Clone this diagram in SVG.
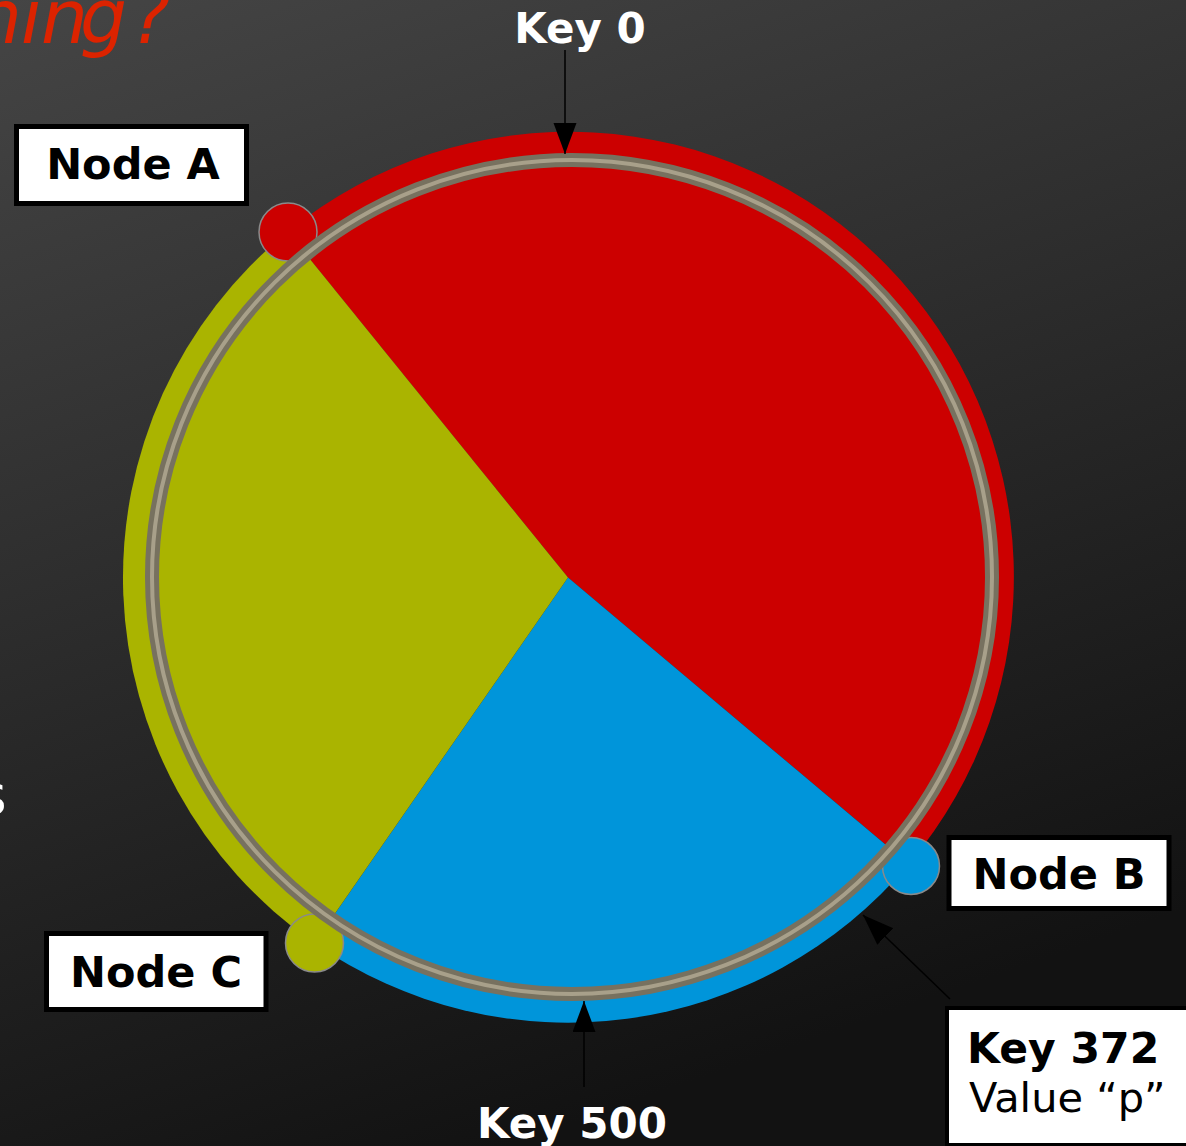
<svg xmlns="http://www.w3.org/2000/svg" width="1186" height="1146" viewBox="0 0 1186 1146">
  <defs>
    <linearGradient id="bg" gradientUnits="userSpaceOnUse" x1="0" y1="0" x2="411" y2="1180">
      <stop offset="0" stop-color="#454545"/>
      <stop offset="1" stop-color="#121212"/>
    </linearGradient>
    <marker id="head" markerUnits="userSpaceOnUse" markerWidth="32" markerHeight="24" refX="31" refY="11.5" orient="auto">
      <path d="M0,0 L31,11.5 L0,23 Z" fill="#000"/>
    </marker>
    <style>
      .box { fill: #fff; stroke: #000; stroke-width: 5; }
      .nodelabel { font-family: "DejaVu Sans", sans-serif; font-weight: bold; font-size: 43px; fill: #000; text-anchor: middle; }
      .key { font-family: "DejaVu Sans", sans-serif; font-weight: bold; font-size: 42px; fill: #fff; text-anchor: middle; }
      .marker-dot { stroke: #8a8a8a; stroke-width: 1.5; }
      .arrow { stroke: #000; stroke-width: 1.5; fill: none; marker-end: url(#head); }
      .ring-outer { fill: none; stroke: #77715f; stroke-width: 14; }
      .ring-inner { fill: none; stroke: #a8a08a; stroke-width: 4; }
    </style>
  </defs>

  <!-- slide background -->
  <rect x="0" y="0" width="1186" height="1146" fill="url(#bg)"/>

  <!-- clipped slide text at the edges -->
  <text x="-25 21 41 80 131" y="43" font-family="DejaVu Sans, sans-serif" font-style="oblique" font-size="74" fill="#dc2300">hing?</text>
  <text x="-22" y="814" font-family="DejaVu Sans, sans-serif" font-size="55" fill="#fff">s</text>

  <!-- hash ring partitions -->
  <g id="partitions">
    <path id="range-a" d="M568,577.5 L287.8,231.8 A445,445 0 0 1 908.7,864.1 Z" fill="#cc0000"/>
    <path id="range-b" d="M568,577.5 L908.7,864.1 A445,445 0 0 1 314.4,943.2 Z" fill="#0095da"/>
    <path id="range-c" d="M568,577.5 L314.4,943.2 A445,445 0 0 1 287.8,231.8 Z" fill="#aab400"/>
  </g>

  <!-- node positions on the ring -->
  <g id="node-a">
    <circle class="marker-dot" cx="288" cy="232" r="29" fill="#cc0000"/>
  </g>
  <g id="node-b">
    <circle class="marker-dot" cx="911" cy="866" r="28.5" fill="#0095da"/>
  </g>
  <g id="node-c">
    <circle class="marker-dot" cx="314.5" cy="943" r="29" fill="#aab400"/>
  </g>

  <!-- the ring itself -->
  <g id="ring">
    <ellipse class="ring-outer" cx="572" cy="577" rx="420" ry="417"/>
    <ellipse class="ring-inner" cx="572" cy="577" rx="420" ry="417"/>
  </g>

  <!-- node labels -->
  <g id="label-node-a">
    <rect class="box" x="16.5" y="126.5" width="230" height="77"/>
    <text class="nodelabel" x="133" y="179">Node A</text>
  </g>
  <g id="label-node-b">
    <rect class="box" x="949" y="837.5" width="220" height="71"/>
    <text class="nodelabel" x="1059" y="889">Node B</text>
  </g>
  <g id="label-node-c">
    <rect class="box" x="46.5" y="933.5" width="219.5" height="76"/>
    <text class="nodelabel" x="156" y="986.5">Node C</text>
  </g>

  <!-- key labels -->
  <g id="key-0">
    <text class="key" x="580" y="43">Key 0</text>
  </g>
  <g id="key-500">
    <text class="key" x="572" y="1137.5">Key 500</text>
  </g>
  <g id="key-372">
    <rect x="947" y="1008" width="260" height="137" fill="#fff" stroke="#000" stroke-width="4"/>
    <text x="967" y="1062.5" font-family="DejaVu Sans, sans-serif" font-weight="bold" font-size="42.5" fill="#000">Key 372</text>
    <text x="969" y="1111.5" font-family="DejaVu Sans, sans-serif" font-size="41.5" fill="#000">Value “p”</text>
  </g>

  <!-- connectors -->
  <g id="connectors">
    <line class="arrow" x1="565" y1="50" x2="565" y2="154"/>
    <line class="arrow" x1="584" y1="1087" x2="584" y2="1001"/>
    <line class="arrow" x1="950" y1="999" x2="863" y2="915"/>
  </g>
</svg>
